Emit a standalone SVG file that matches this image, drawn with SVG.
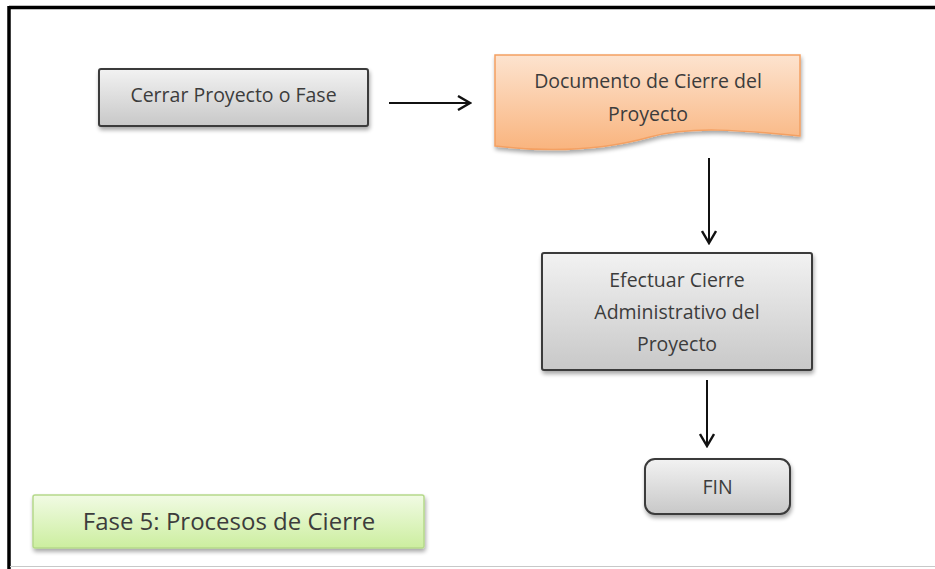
<svg xmlns="http://www.w3.org/2000/svg" width="935" height="569" viewBox="0 0 935 569">
  <defs>
    <linearGradient id="gGray" x1="0" y1="0" x2="0" y2="1">
      <stop offset="0" stop-color="#f2f2f2"/>
      <stop offset="1" stop-color="#c8c8c8"/>
    </linearGradient>
    <linearGradient id="gOrange" x1="0" y1="0" x2="0" y2="1">
      <stop offset="0" stop-color="#fde3cf"/>
      <stop offset="1" stop-color="#f9b47e"/>
    </linearGradient>
    <linearGradient id="gGreen" x1="0" y1="0" x2="0" y2="1">
      <stop offset="0" stop-color="#f1fbe4"/>
      <stop offset="1" stop-color="#ccee9f"/>
    </linearGradient>
    <filter id="shadow" x="-10%" y="-20%" width="120%" height="150%">
      <feGaussianBlur in="SourceAlpha" stdDeviation="2"/>
      <feOffset dx="1" dy="3" result="b"/>
      <feComponentTransfer><feFuncA type="linear" slope="0.35"/></feComponentTransfer>
      <feMerge><feMergeNode/><feMergeNode in="SourceGraphic"/></feMerge>
    </filter>
    <marker id="arrow" viewBox="0 0 16 16" refX="14" refY="8" markerWidth="16" markerHeight="16" markerUnits="userSpaceOnUse" orient="auto">
      <path d="M2 1 L14 8 L2 15" fill="none" stroke="#111" stroke-width="2.4"/>
    </marker>
  </defs>
  <style>
    .box { fill: url(#gGray); stroke: #3a3a3a; stroke-width: 2; filter: url(#shadow); }
    .doc { fill: url(#gOrange); stroke: #f4a062; stroke-width: 1.5; filter: url(#shadow); }
    .phase { fill: url(#gGreen); stroke: #b5d98a; stroke-width: 1.5; filter: url(#shadow); }
    .label { font-family: "Open Sans", "Liberation Sans", sans-serif; font-size: 19.5px; fill: #3c3c3c; text-anchor: middle; }
    .big { font-size: 24px; }
    .conn { stroke: #111; stroke-width: 2; fill: none; marker-end: url(#arrow); }
  </style>

  <rect width="935" height="569" fill="#ffffff"/>

  <!-- outer frame: top and left black rules, faint bottom rule -->
  <g id="frame">
    <line x1="9" y1="7.5" x2="935" y2="7.5" stroke="#000" stroke-width="3.5"/>
    <line x1="9" y1="6" x2="9" y2="569" stroke="#000" stroke-width="3.5"/>
    <line x1="10" y1="566.5" x2="935" y2="566.5" stroke="#c8c8c8" stroke-width="1"/>
  </g>

  <g id="cerrar">
    <rect class="box" x="99" y="69" width="269" height="57" rx="2"/>
    <text class="label" x="233.5" y="102">Cerrar Proyecto o Fase</text>
  </g>

  <g id="documento">
    <path class="doc" d="M495 55 H800 V136 C740 130 690 126 650 137 C600 151 545 152 495 146 Z"/>
    <text class="label" x="648" y="88">Documento de Cierre del</text>
    <text class="label" x="648" y="121">Proyecto</text>
  </g>

  <g id="efectuar">
    <rect class="box" x="542" y="253" width="270" height="117" rx="2"/>
    <text class="label" x="677" y="287">Efectuar Cierre</text>
    <text class="label" x="677" y="319">Administrativo del</text>
    <text class="label" x="677" y="351">Proyecto</text>
  </g>

  <g id="fin">
    <rect class="box" x="645" y="459" width="145" height="55" rx="10"/>
    <text class="label" x="717.5" y="494">FIN</text>
  </g>

  <g id="fase5">
    <rect class="phase" x="33" y="495" width="391" height="53" rx="2"/>
    <text class="label big" x="229" y="530">Fase 5: Procesos de Cierre</text>
  </g>

  <g id="connectors">
    <line class="conn" x1="389" y1="103" x2="470" y2="103"/>
    <line class="conn" x1="709" y1="158" x2="709" y2="243"/>
    <line class="conn" x1="707" y1="380" x2="707" y2="446"/>
  </g>
</svg>
